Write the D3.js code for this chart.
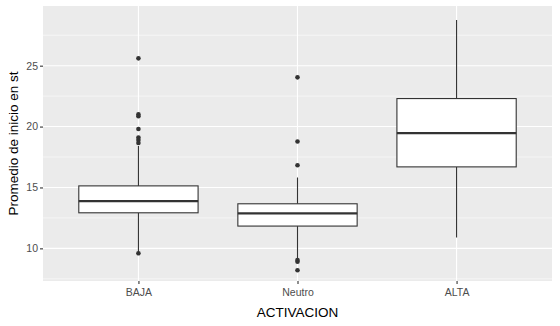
<!DOCTYPE html>
<html>
<head>
<meta charset="utf-8">
<script src="https://cdn.jsdelivr.net/npm/d3@7"></script>
<style>
  body { margin: 0; background: #fff; }
  text { font-family: "Liberation Sans", Arial, sans-serif; }
</style>
</head>
<body>
<svg id="chart"></svg>
<script>
/******** Data ********/
var categories = ["BAJA", "Neutro", "ALTA"];
// five-number summaries
var whiskerLow  = [9.65, 9.0, 10.9];
var q1          = [12.92, 11.83, 16.69];
var medians     = [13.88, 12.87, 19.46];
var q3          = [15.13, 13.66, 22.3];
var whiskerHigh = [18.4, 15.82, 28.75];
var outliers = [
    [25.6, 21.0, 20.85, 19.8, 19.1, 18.9, 18.65, 9.6],
    [24.04, 18.77, 16.83, 9.05, 8.9, 8.2],
    []
];
var yTicks = [10, 15, 20, 25];
var yMinor = [7.5, 12.5, 17.5, 22.5, 27.5];

/******** Size ********/
var width = 560, height = 326;
var margin = {top: 6, right: 8, bottom: 45, left: 43};

var svg = d3.select("#chart")
    .attr("width", width)
    .attr("height", height);

/******** Scales ********/
// ggplot style discrete expansion: 0.6 units on each side
var x = d3.scaleLinear()
    .domain([0.4, categories.length + 0.6])
    .range([margin.left, width - margin.right]);

var y = d3.scaleLinear()
    .domain([7.32, 29.9])
    .range([height - margin.bottom, margin.top]);

var boxHalf = 0.375;

/******** Panel ********/
svg.append("rect")
    .attr("x", margin.left)
    .attr("y", margin.top)
    .attr("width", width - margin.left - margin.right)
    .attr("height", height - margin.top - margin.bottom)
    .attr("fill", "#EBEBEB");

// minor grid
svg.append("g").selectAll("line")
    .data(yMinor)
    .enter().append("line")
    .attr("x1", margin.left)
    .attr("x2", width - margin.right)
    .attr("y1", d => y(d))
    .attr("y2", d => y(d))
    .attr("stroke", "#fff")
    .attr("stroke-width", 0.55);

// major grid
svg.append("g").selectAll("line")
    .data(yTicks)
    .enter().append("line")
    .attr("x1", margin.left)
    .attr("x2", width - margin.right)
    .attr("y1", d => y(d))
    .attr("y2", d => y(d))
    .attr("stroke", "#fff")
    .attr("stroke-width", 1.1);

svg.append("g").selectAll("line")
    .data(categories)
    .enter().append("line")
    .attr("x1", (d, i) => x(i + 1))
    .attr("x2", (d, i) => x(i + 1))
    .attr("y1", margin.top)
    .attr("y2", height - margin.bottom)
    .attr("stroke", "#fff")
    .attr("stroke-width", 1.1);

/******** Boxes ********/
var boxes = svg.append("g").selectAll("g")
    .data(categories)
    .enter().append("g");

// whiskers
boxes.append("line")
    .attr("x1", (d, i) => x(i + 1))
    .attr("x2", (d, i) => x(i + 1))
    .attr("y1", (d, i) => y(whiskerHigh[i]))
    .attr("y2", (d, i) => y(q3[i]))
    .attr("stroke", "#333")
    .attr("stroke-width", 1.1);

boxes.append("line")
    .attr("x1", (d, i) => x(i + 1))
    .attr("x2", (d, i) => x(i + 1))
    .attr("y1", (d, i) => y(q1[i]))
    .attr("y2", (d, i) => y(whiskerLow[i]))
    .attr("stroke", "#333")
    .attr("stroke-width", 1.1);

boxes.append("rect")
    .attr("x", (d, i) => x(i + 1 - boxHalf))
    .attr("width", (d, i) => x(i + 1 + boxHalf) - x(i + 1 - boxHalf))
    .attr("y", (d, i) => y(q3[i]))
    .attr("height", (d, i) => y(q1[i]) - y(q3[i]))
    .attr("fill", "#fff")
    .attr("stroke", "#333")
    .attr("stroke-width", 1.1);

boxes.append("line")
    .attr("x1", (d, i) => x(i + 1 - boxHalf))
    .attr("x2", (d, i) => x(i + 1 + boxHalf))
    .attr("y1", (d, i) => y(medians[i]))
    .attr("y2", (d, i) => y(medians[i]))
    .attr("stroke", "#333")
    .attr("stroke-width", 2.2);

// outlier points
boxes.selectAll("circle")
    .data((d, i) => outliers[i].map(v => ({pos: i + 1, value: v})))
    .enter().append("circle")
    .attr("cx", d => x(d.pos))
    .attr("cy", d => y(d.value))
    .attr("r", 2.3)
    .attr("fill", "#333");

/******** Axes ********/
var yAxis = d3.axisLeft(y)
    .tickValues(yTicks)
    .tickSize(3)
    .tickPadding(2);

var yAxisGroup = svg.append("g")
    .attr("transform", "translate(" + margin.left + ",0)")
    .call(yAxis);
yAxisGroup.select(".domain").remove();
yAxisGroup.selectAll("line").attr("stroke", "#333").attr("stroke-width", 1.1);
yAxisGroup.selectAll("text")
    .attr("fill", "#4D4D4D")
    .style("font-size", "10.5px")
    .style("font-family", "'Liberation Sans', Arial, sans-serif");

var xAxis = d3.axisBottom(x)
    .tickValues([1, 2, 3])
    .tickFormat(d => categories[d - 1])
    .tickSize(3)
    .tickPadding(5);

var xAxisGroup = svg.append("g")
    .attr("transform", "translate(0," + (height - margin.bottom) + ")")
    .call(xAxis);
xAxisGroup.select(".domain").remove();
xAxisGroup.selectAll("line").attr("stroke", "#333").attr("stroke-width", 1.1);
xAxisGroup.selectAll("text")
    .attr("fill", "#4D4D4D")
    .style("font-size", "10.5px")
    .style("font-family", "'Liberation Sans', Arial, sans-serif");

// axis titles
svg.append("text")
    .text("ACTIVACION")
    .attr("x", x(2))
    .attr("y", 317)
    .attr("text-anchor", "middle")
    .style("font-size", "13.5px")
    .attr("fill", "#000");

svg.append("text")
    .text("Promedio de inicio en st")
    .attr("transform", "translate(18," + ((margin.top + height - margin.bottom) / 2) + ") rotate(-90)")
    .attr("text-anchor", "middle")
    .style("font-size", "13.5px")
    .attr("fill", "#000");
</script>
</body>
</html>
